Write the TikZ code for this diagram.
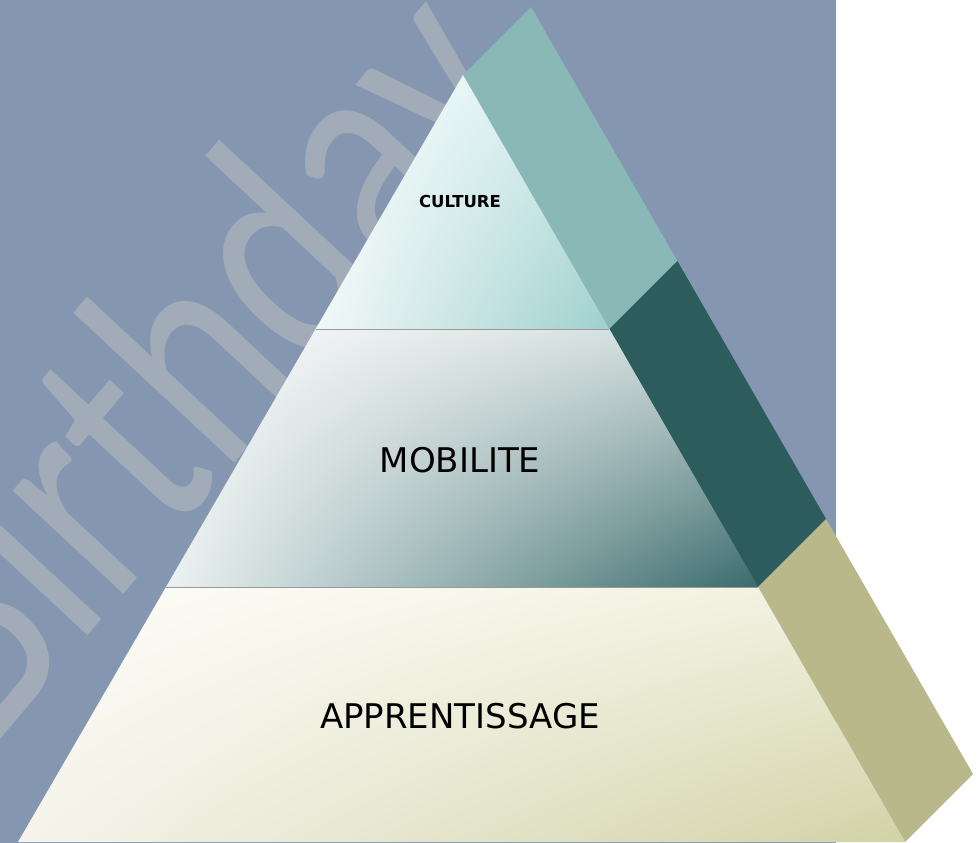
\documentclass[tikz,border=0pt]{standalone}
\usepackage{fontspec}
\setmainfont{DejaVu Sans}
\newfontfamily\wmfont{Carlito}
\usetikzlibrary{calc,shadings}
\definecolor{bgblue}{HTML}{8496B0}
\definecolor{wmcol}{HTML}{A2ACB9}
\definecolor{sidetop}{HTML}{89B8B7}
\definecolor{sidemid}{HTML}{2D5C5D}
\definecolor{sidebot}{HTML}{B9B88A}
\definecolor{ta}{HTML}{FFFFFF}\definecolor{tb}{HTML}{D0ECEC}\definecolor{tc}{HTML}{F2F8F8}\definecolor{td}{HTML}{9ED0CE}
\definecolor{ma}{HTML}{FCFCFC}\definecolor{mb}{HTML}{CCD8D8}\definecolor{mc}{HTML}{ECF2F2}\definecolor{md}{HTML}{3A6A6C}
\definecolor{ba}{HTML}{FEFEFA}\definecolor{bb}{HTML}{F0F0DE}\definecolor{bc}{HTML}{F4F4EC}\definecolor{bd}{HTML}{D2D2A6}
\tikzset{
  sepline/.style={draw=gray!80, line width=0.8pt},
  tiertext/.style={text=black, inner sep=0pt},
  wm/.style={text=wmcol, inner sep=0pt, font=\wmfont\fontsize{310}{310}\selectfont}
}
\begin{document}
\begin{tikzpicture}[x=1pt,y=-1pt]
\useasboundingbox (0,0) rectangle (978,843);
\clip (0,0) rectangle (978,843);
\fill[white] (0,0) rectangle (978,843);
\fill[bgblue] (0,0) rectangle (836,843);
% watermark
\begin{scope}[shift={(-10.6,753)}, yscale=1.05]
  \node[wm, transform shape, rotate=48.4, xscale=0.78, anchor=base west] (wmark) at (0,0) {Birthday};
\end{scope}
% pyramid geometry
\coordinate (A) at (463,75);
\coordinate (L) at (18,842);
\coordinate (R) at (905,842);
\coordinate (P1L) at (315.6,329);
\coordinate (P1R) at (609.4,329);
\coordinate (P2L) at (166,587);
\coordinate (P2R) at (758.1,587);
\coordinate (Ab) at ($(A)+(68,-68)$);
\coordinate (P1b) at ($(P1R)+(68,-68)$);
\coordinate (P2b) at ($(P2R)+(68,-68)$);
\coordinate (Rb) at ($(R)+(68,-68)$);
% side faces
\fill[sidetop] (A) -- (Ab) -- (P1b) -- (P1R) -- cycle;
\fill[sidemid] (P1R) -- (P1b) -- (P2b) -- (P2R) -- cycle;
\fill[sidebot] (P2R) -- (P2b) -- (Rb) -- (R) -- cycle;
% front tiers
\shade[upper left=ta, upper right=tb, lower left=tc, lower right=td]
  (A) -- (P1R) -- (P1L) -- cycle;
\shade[upper left=ma, upper right=mb, lower left=mc, lower right=md]
  (P1L) -- (P1R) -- (P2R) -- (P2L) -- cycle;
\shade[upper left=ba, upper right=bb, lower left=bc, lower right=bd]
  (P2L) -- (P2R) -- (R) -- (L) -- cycle;
\draw[sepline] (P1L) -- (P1R);
\draw[sepline] (P2L) -- (P2R);
% labels
\node[tiertext, font=\bfseries\fontsize{16.5}{20}\selectfont] (culture) at (460,201) {CULTURE};
\node[tiertext, font=\fontsize{34}{40}\selectfont] (mobilite) at (460,460) {MOBILITE};
\node[tiertext, font=\fontsize{34}{40}\selectfont] (apprentissage) at (460,716) {APPRENTISSAGE};
\end{tikzpicture}
\end{document}
